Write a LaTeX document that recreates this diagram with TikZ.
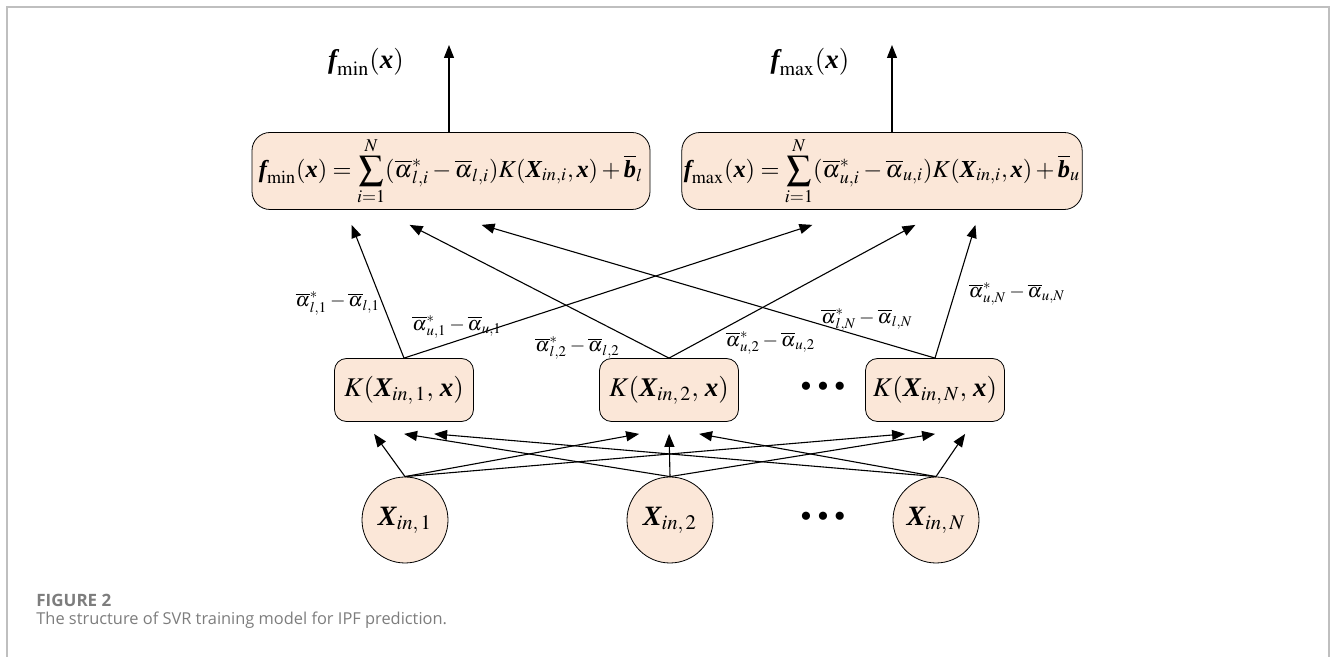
\documentclass[tikz,border=0pt]{standalone}
\usepackage{amsmath}
\usepackage{mathptmx}
\usepackage[no-math]{fontspec}
\setmainfont{Liberation Serif}
\newfontfamily\capfont{Open Sans}
\usetikzlibrary{arrows.meta, calc}
\definecolor{peach}{RGB}{251,231,216}
\definecolor{framegray}{RGB}{191,191,191}
\definecolor{capgray}{RGB}{125,125,125}
\newcommand{\bv}[1]{\text{\bfseries\itshape #1}}

\begin{document}
\begin{tikzpicture}[x=0.5pt, y=-0.5pt,
    fbox/.style={draw, fill=peach, rounded corners=9pt, minimum width=199pt, minimum height=38.5pt, inner sep=1pt, font=\fontsize{12.2}{14}\selectfont},
    kbox/.style={draw, fill=peach, rounded corners=6pt, minimum width=69.5pt, minimum height=31.5pt, inner sep=1pt, font=\fontsize{13.5}{15}\selectfont},
    xin/.style={draw, fill=peach, circle, minimum size=43pt, inner sep=0pt, font=\fontsize{14}{16}\selectfont},
    wlab/.style={inner sep=1pt, font=\fontsize{10}{11}\selectfont},
    arr/.style={line width=0.55pt, -{Triangle[length=6.5pt, width=5pt]}},
    dots/.style={inner sep=0pt, font=\fontsize{17}{17}\selectfont}]

    \useasboundingbox (0,0) rectangle (1330,657);
    \draw[framegray, line width=0.8pt] (7,657) -- (7,7) -- (1329,7) -- (1329,657);

    \node (fmin) [fbox] at (451,171) {$\bv{f}_{\min}(\bv{x})=\displaystyle\sum_{i=1}^{N}(\overline{\alpha}^{*}_{l,i}-\overline{\alpha}_{l,i})K(\bv{X}_{in,i},\bv{x})+\overline{\bv{b}}_{l}$};
    \node (fmax) [fbox] at (882,171) {$\bv{f}_{\max}(\bv{x})=\displaystyle\sum_{i=1}^{N}(\overline{\alpha}^{*}_{u,i}-\overline{\alpha}_{u,i})K(\bv{X}_{in,i},\bv{x})+\overline{\bv{b}}_{u}$};

    \coordinate (omin) at (449,45);
    \coordinate (omax) at (892,45);
    \node (ymin) [font=\fontsize{13.5}{15}\selectfont] at (366,62) {$\bv{f}_{\min}(\bv{x})$};
    \node (ymax) [font=\fontsize{13.5}{15}\selectfont] at (810,62) {$\bv{f}_{\max}(\bv{x})$};
    \draw[arr] (fmin.north -| omin) -- (omin);
    \draw[arr] (fmax.north -| omax) -- (omax);

    \node (k1) [kbox] at (404,390) {$K(\bv{X}_{in,\,1},\,\bv{x})$};
    \node (k2) [kbox] at (669,390) {$K(\bv{X}_{in,\,2},\,\bv{x})$};
    \node (kN) [kbox] at (935,390) {$K(\bv{X}_{in,\,N},\,\bv{x})$};
    \node (kdots) [dots] at (823,390) {\textbullet\hspace{2.5pt}\textbullet\hspace{2.5pt}\textbullet};

    \node (x1) [xin] at (405,520) {$\bv{X}_{in,\,1}$};
    \node (x2) [xin] at (670,520) {$\bv{X}_{in,\,2}$};
    \node (xN) [xin] at (936,520) {$\bv{X}_{in,\,N}$};
    \node (xdots) [dots] at (823,520) {\textbullet\hspace{2.5pt}\textbullet\hspace{2.5pt}\textbullet};

    \foreach \s [count=\o] in {1,2,N}
        \foreach \t in {1,2,N}
            \draw[arr] (x\s.north) -- ([shift={({\o*30+10},12)}]k\t.south west);

    \draw[arr] (k1.north) -- node[wlab, pos=0.41, left] {$\overline{\alpha}^{*}_{l,1}-\overline{\alpha}_{l,1}$} ([shift={(100,15)}]fmin.south west);
    \draw[arr] (k1.north) -- node[wlab, pos=0.13, above] {$\overline{\alpha}^{*}_{u,1}-\overline{\alpha}_{u,1}$} ([shift={(131,15)}]fmax.south west);
    \draw[arr] (k2.north) -- node[wlab, pos=0.18, below left] {$\overline{\alpha}^{*}_{l,2}-\overline{\alpha}_{l,2}$} ([shift={(158,15)}]fmin.south west);
    \draw[arr] (k2.north) -- node[wlab, pos=0.22, below right] {$\overline{\alpha}^{*}_{u,2}-\overline{\alpha}_{u,2}$} ([shift={(234,15)}]fmax.south west);
    \draw[arr] (kN.north) -- node[wlab, pos=0.15, above=2pt] {$\overline{\alpha}^{*}_{l,N}-\overline{\alpha}_{l,N}$} ([shift={(230,15)}]fmin.south west);
    \draw[arr] (kN.north) -- node[wlab, pos=0.48, right=6pt] {$\overline{\alpha}^{*}_{u,N}-\overline{\alpha}_{u,N}$} ([shift={(294,15)}]fmax.south west);

    \node (fig) [anchor=base west, inner sep=0pt, text=capgray, font=\capfont\bfseries\fontsize{8.5}{10}\selectfont] at (36,607) {FIGURE 2};
    \node (cap) [anchor=base west, inner sep=0pt, text=capgray, font=\capfont\fontsize{8.2}{10}\selectfont] at (36,625) {The structure of SVR training model for IPF prediction.};

\end{tikzpicture}
\end{document}
